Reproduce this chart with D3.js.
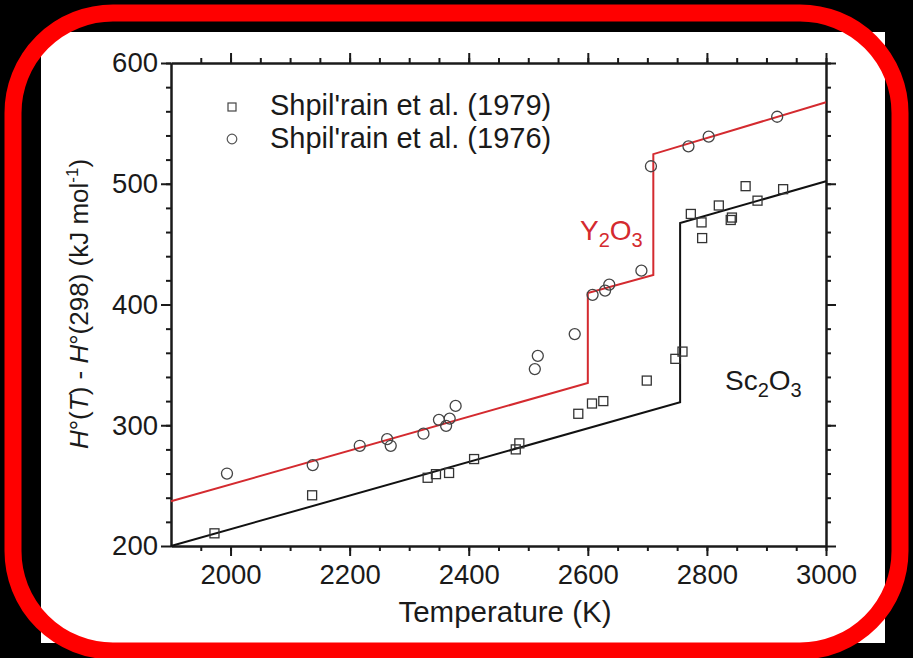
<!DOCTYPE html>
<html><head><meta charset="utf-8">
<script src="https://cdn.jsdelivr.net/npm/d3@7"></script>
<style>html,body{margin:0;padding:0;background:#000;}svg{display:block;}</style>
</head><body>
<script>
// ---- data ----
const sq1979T = [1973,2137,2331,2345,2367,2409,2479,2485,2584,2607,2626,2699,2747,2759,2773,2791,2792,2820,2840,2842,2865,2885,2928];
const sq1979H = [210.5,242,256.5,259.5,260.5,272,280,285,309.5,318,320,337,355,361,475,468,455,482,470,472,498,486,495.5];
const ci1976T = [1994,2138,2217,2263,2269,2324,2350,2362,2368,2378,2511,2516,2578,2608,2629,2636,2690,2706,2769,2803,2918];
const ci1976H = [260,267,283,288.5,283,293,304.5,299.5,305.5,316,346.5,357.5,375.5,408,411.5,416.5,428,514.5,531,539,555.5];
const y2o3T = [1900,2600,2600,2710,2710,3000];
const y2o3H = [237,335,409.5,424.5,524.5,567.5];
const sc2o3T = [1900,2755,2755,3000];
const sc2o3H = [200,319,467.5,502];
const xMajor = [2000,2200,2400,2600,2800,3000];
const yMajor = [200,300,400,500,600];
const legendLabels = ["Shpil'rain et al. (1979)","Shpil'rain et al. (1976)"];

const W=913,H=658;
const svg=d3.select("body").append("svg").attr("width",W).attr("height",H);
svg.append("rect").attr("width",W).attr("height",H).attr("fill","#000");
svg.append("rect").attr("x",41).attr("y",32).attr("width",844).attr("height",611).attr("fill","#fff");

const x=d3.scaleLinear().domain([1900,3000]).range([171,826]);
const y=d3.scaleLinear().domain([200,600]).range([546,63]);
const font="'Liberation Sans', Arial, sans-serif";
const ink="#1a1a1a";

const xMinor=d3.range(1950,3001,50);
const yMinor=d3.range(220,601,20);

function styleAxis(g){
  g.selectAll("path,line").attr("stroke",ink).attr("stroke-width",2);
  g.selectAll("text").attr("fill",ink).style("font-family",font).style("font-size","27.5px");
}
// bottom
svg.append("g").attr("transform","translate(0,546)").call(d3.axisBottom(x).tickValues(xMinor).tickSize(5).tickSizeOuter(0).tickFormat("")).call(styleAxis);
svg.append("g").attr("transform","translate(0,546)").call(d3.axisBottom(x).tickValues(xMajor).tickSize(10).tickSizeOuter(0).tickPadding(8).tickFormat(d3.format("d"))).call(styleAxis);
// top
svg.append("g").attr("transform","translate(0,63)").call(d3.axisTop(x).tickValues(xMinor).tickSize(5).tickSizeOuter(0).tickFormat("")).call(styleAxis);
svg.append("g").attr("transform","translate(0,63)").call(d3.axisTop(x).tickValues(xMajor).tickSize(10).tickSizeOuter(0).tickFormat("")).call(styleAxis);
// left
svg.append("g").attr("transform","translate(171,0)").call(d3.axisLeft(y).tickValues(yMinor).tickSize(5).tickSizeOuter(0).tickFormat("")).call(styleAxis);
svg.append("g").attr("transform","translate(171,0)").call(d3.axisLeft(y).tickValues(yMajor).tickSize(10).tickSizeOuter(0).tickPadding(3).tickFormat(d3.format("d"))).call(styleAxis);
// right
svg.append("g").attr("transform","translate(826,0)").call(d3.axisRight(y).tickValues(yMinor).tickSize(5).tickSizeOuter(0).tickFormat("")).call(styleAxis);
svg.append("g").attr("transform","translate(826,0)").call(d3.axisRight(y).tickValues(yMajor).tickSize(10).tickSizeOuter(0).tickFormat("")).call(styleAxis);

// lines
const line=d3.line().x(d=>x(d[0])).y(d=>y(d[1]));
svg.append("path").datum(sc2o3T.map((t,i)=>[t,sc2o3H[i]])).attr("d",line).attr("fill","none").attr("stroke","#111").attr("stroke-width",2);
svg.append("path").datum(y2o3T.map((t,i)=>[t,y2o3H[i]])).attr("d",line).attr("fill","none").attr("stroke","#d42a2f").attr("stroke-width",2);

// markers
const s=9;
svg.append("g").selectAll("rect").data(sq1979T.map((t,i)=>[t,sq1979H[i]])).join("rect")
  .attr("x",d=>x(d[0])-s/2).attr("y",d=>y(d[1])-s/2).attr("width",s).attr("height",s)
  .attr("fill","none").attr("stroke","#333").attr("stroke-width",1.3);
svg.append("g").selectAll("circle").data(ci1976T.map((t,i)=>[t,ci1976H[i]])).join("circle")
  .attr("cx",d=>x(d[0])).attr("cy",d=>y(d[1])).attr("r",5.5)
  .attr("fill","none").attr("stroke","#444").attr("stroke-width",1.3);

// legend
svg.append("rect").attr("x",228).attr("y",103).attr("width",8).attr("height",8).attr("fill","none").attr("stroke","#444").attr("stroke-width",1.2);
svg.append("circle").attr("cx",232).attr("cy",139).attr("r",4.8).attr("fill","none").attr("stroke","#555").attr("stroke-width",1.2);
svg.selectAll("text.leg").data(legendLabels).join("text").attr("class","leg")
  .attr("x",270).attr("y",(d,i)=>115+i*33).text(d=>d)
  .attr("fill",ink).style("font-family",font).style("font-size","29px");

// series labels
const yl=svg.append("text").attr("x",580).attr("y",240).attr("fill","#d42a2f").style("font-family",font).style("font-size","28px");
yl.append("tspan").text("Y");
yl.append("tspan").text("2").attr("dy",7).style("font-size","20px");
yl.append("tspan").text("O").attr("dy",-7);
yl.append("tspan").text("3").attr("dy",7).style("font-size","20px");
const sl=svg.append("text").attr("x",725).attr("y",390).attr("fill",ink).style("font-family",font).style("font-size","28px");
sl.append("tspan").text("Sc");
sl.append("tspan").text("2").attr("dy",7).style("font-size","20px");
sl.append("tspan").text("O").attr("dy",-7);
sl.append("tspan").text("3").attr("dy",7).style("font-size","20px");

// axis titles
svg.append("text").attr("x",505).attr("y",622).attr("text-anchor","middle").attr("fill",ink)
  .style("font-family",font).style("font-size","29.5px").text("Temperature (K)");
const yt=svg.append("text").attr("transform","translate(88,304) rotate(-90)").attr("text-anchor","middle").attr("fill",ink)
  .style("font-family",font).style("font-size","26px");
yt.append("tspan").text("H").style("font-style","italic");
yt.append("tspan").text("°(");
yt.append("tspan").text("T").style("font-style","italic");
yt.append("tspan").text(") - ");
yt.append("tspan").text("H").style("font-style","italic");
yt.append("tspan").text("°(298) (kJ mol");
yt.append("tspan").text("-1").attr("dy",-10).style("font-size","17px");
yt.append("tspan").text(")").attr("dy",10);

// frame
svg.append("rect").attr("x",13).attr("y",13).attr("width",887).attr("height",638).attr("rx",100).attr("ry",100)
  .attr("fill","none").attr("stroke","#ff0000").attr("stroke-width",17);
</script>
</body></html>
